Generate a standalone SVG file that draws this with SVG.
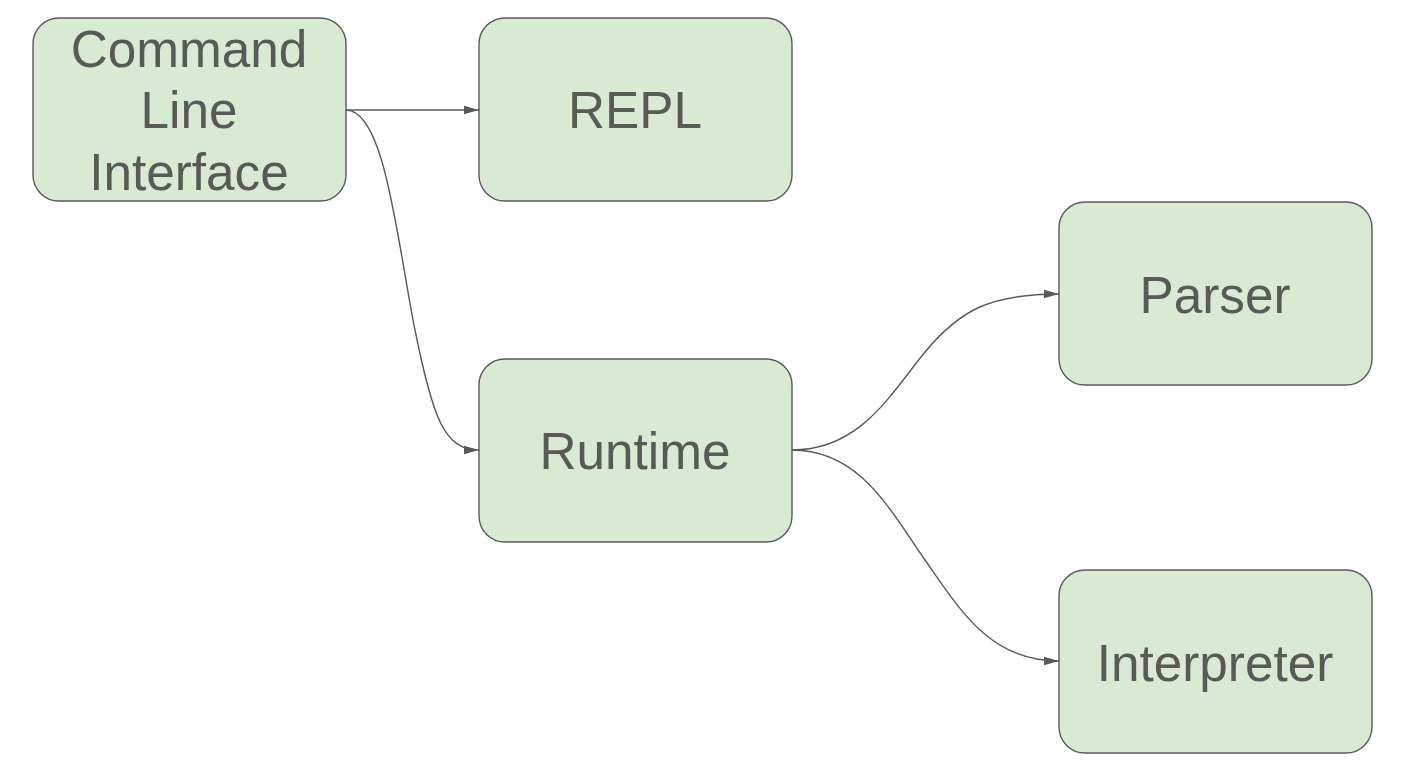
<svg xmlns="http://www.w3.org/2000/svg" width="1411" height="767" viewBox="0 0 1411 767">
<style>
.node rect{fill:#d9ead3;stroke:#595959;stroke-width:1.4}
.node text{font-family:"Liberation Sans",Arial,sans-serif;font-size:51.3px;fill:#595959;text-anchor:middle}
.edge{fill:none;stroke:#595959;stroke-width:1.4}
</style>
<defs>
<marker id="arr" viewBox="0 0 15 10" refX="15" refY="5" markerWidth="15" markerHeight="10" markerUnits="userSpaceOnUse" orient="auto">
<path d="M0,0.8 L15,5 L0,9.2 Z" fill="#595959"/>
</marker>
</defs>
<rect width="1411" height="767" fill="#ffffff"/>
<g id="connectors">
<path class="edge" d="M346,110 L479,110" marker-end="url(#arr)"/>
<path class="edge" d="M346,110 C385,110 397,240 415,330 C433,420 445,450 479,450" marker-end="url(#arr)"/>
<path class="edge" d="M792,450 C860,450 890,395 925,352 C960,310 990,294 1059,294" marker-end="url(#arr)"/>
<path class="edge" d="M792,450 C860,450 890,510 925,560 C960,610 990,661 1059,661" marker-end="url(#arr)"/>
</g>
<g id="node-cli" class="node">
<rect x="33" y="18" width="313" height="183" rx="26"/>
<text x="189" y="67">Command</text>
<text x="189" y="128">Line</text>
<text x="189" y="190">Interface</text>
</g>
<g id="node-repl" class="node">
<rect x="479" y="18" width="313" height="183" rx="26"/>
<text x="635" y="128">REPL</text>
</g>
<g id="node-runtime" class="node">
<rect x="479" y="359" width="313" height="183" rx="26"/>
<text x="635" y="469">Runtime</text>
</g>
<g id="node-parser" class="node">
<rect x="1059" y="202" width="313" height="183" rx="26"/>
<text x="1215" y="313">Parser</text>
</g>
<g id="node-interpreter" class="node">
<rect x="1059" y="570" width="313" height="183" rx="26"/>
<text x="1215" y="681">Interpreter</text>
</g>
</svg>
